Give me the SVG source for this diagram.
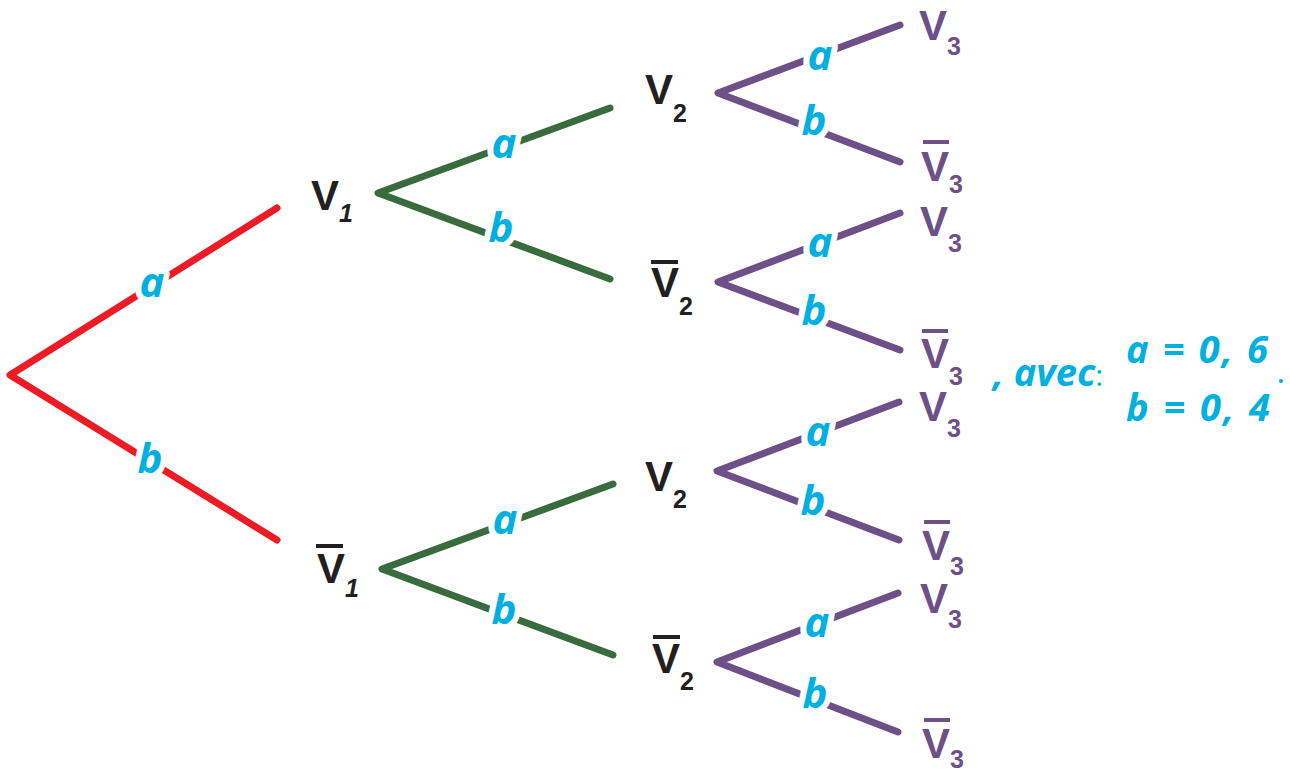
<svg xmlns="http://www.w3.org/2000/svg" width="1290" height="774" viewBox="0 0 1290 774">
<style>
.edge{fill:none;stroke-width:7;stroke-linecap:round;stroke-linejoin:round}
.red{stroke:#ed1c24}.green{stroke:#386b3d}.purple{stroke:#6c5087}
.lbl{font-family:"Open Sans","DejaVu Sans",sans-serif;font-weight:700;font-style:italic;font-size:42px;fill:#00b0e0;stroke:#fff;stroke-width:12;stroke-linejoin:round;paint-order:stroke;text-anchor:middle}
.v{font-family:"Liberation Sans","Noto Sans",sans-serif;font-weight:700;font-size:42px}
.s{font-size:25px}
.blk{fill:#231f20}.pur{fill:#6c5087}
.barb{stroke:#231f20;stroke-width:4}.barp{stroke:#6c5087;stroke-width:4}
.eq{font-family:"Open Sans","DejaVu Sans",sans-serif;font-weight:700;font-style:italic;font-size:38px;fill:#00b0e0}
</style>
<rect width="1290" height="774" fill="#fff"/>
<g id="connectors">
<polyline class="edge red" points="277,208 10,375 277,540"/>
<polyline class="edge green" points="610,108 378,193 610,279"/>
<polyline class="edge green" points="613,484 382,569 613,655"/>
<polyline class="edge purple" points="900,25 718,93 900,162"/>
<polyline class="edge purple" points="900,213 718,282 900,350"/>
<polyline class="edge purple" points="899,402 717,471 899,540"/>
<polyline class="edge purple" points="898,593 717,662 898,732"/>
<text class="lbl" x="152" y="297">a</text>
<text class="lbl" x="150" y="473">b</text>
<text class="lbl" x="504" y="158">a</text>
<text class="lbl" x="501" y="242">b</text>
<text class="lbl" x="505" y="534">a</text>
<text class="lbl" x="504" y="624">b</text>
<text class="lbl" x="820" y="70">a</text>
<text class="lbl" x="814" y="135">b</text>
<text class="lbl" x="820" y="257">a</text>
<text class="lbl" x="814" y="325">b</text>
<text class="lbl" x="818" y="446">a</text>
<text class="lbl" x="813" y="515">b</text>
<text class="lbl" x="817" y="637">a</text>
<text class="lbl" x="815" y="708">b</text>
</g>
<g id="V1"><text class="v blk" x="311" y="210">V<tspan class="s" dy="12" font-style="italic">1</tspan></text></g>
<g id="notV1"><line class="barb" x1="316" y1="546" x2="343" y2="546"/><text class="v blk" x="317" y="583">V<tspan class="s" dy="14" font-style="italic">1</tspan></text></g>
<g id="V2a"><text class="v blk" x="645" y="104">V<tspan class="s" dy="18">2</tspan></text></g>
<g id="notV2a"><line class="barb" x1="651" y1="262" x2="678" y2="262"/><text class="v blk" x="651" y="297">V<tspan class="s" dy="18">2</tspan></text></g>
<g id="V2b"><text class="v blk" x="645" y="491">V<tspan class="s" dy="17">2</tspan></text></g>
<g id="notV2b"><line class="barb" x1="653" y1="637" x2="680" y2="637"/><text class="v blk" x="652" y="673">V<tspan class="s" dy="17">2</tspan></text></g>
<g id="V3a"><text class="v pur" x="919" y="40">V<tspan class="s" dy="15">3</tspan></text></g>
<g id="notV3a"><line class="barp" x1="923" y1="142" x2="949" y2="142"/><text class="v pur" x="921" y="181">V<tspan class="s" dy="12">3</tspan></text></g>
<g id="V3b"><text class="v pur" x="920" y="236">V<tspan class="s" dy="16">3</tspan></text></g>
<g id="notV3b"><line class="barp" x1="922" y1="331" x2="948" y2="331"/><text class="v pur" x="921" y="368">V<tspan class="s" dy="17">3</tspan></text></g>
<g id="V3c"><text class="v pur" x="919" y="421">V<tspan class="s" dy="16">3</tspan></text></g>
<g id="notV3c"><line class="barp" x1="924" y1="522" x2="950" y2="522"/><text class="v pur" x="922" y="560">V<tspan class="s" dy="15">3</tspan></text></g>
<g id="V3d"><text class="v pur" x="920" y="613">V<tspan class="s" dy="15">3</tspan></text></g>
<g id="notV3d"><line class="barp" x1="924" y1="720" x2="950" y2="720"/><text class="v pur" x="922" y="758">V<tspan class="s" dy="10">3</tspan></text></g>
<g id="legend">
<text class="eq" x="993" y="386">, avec<tspan font-weight="400" font-style="normal" font-size="30">:</tspan></text>
<text class="eq" x="1126" y="363" textLength="142" lengthAdjust="spacing">a = 0, 6</text>
<text class="eq" x="1126" y="421" textLength="144" lengthAdjust="spacing">b = 0, 4</text>
<circle cx="1281" cy="381" r="2" fill="#00b0e0"/>
</g>
</svg>
